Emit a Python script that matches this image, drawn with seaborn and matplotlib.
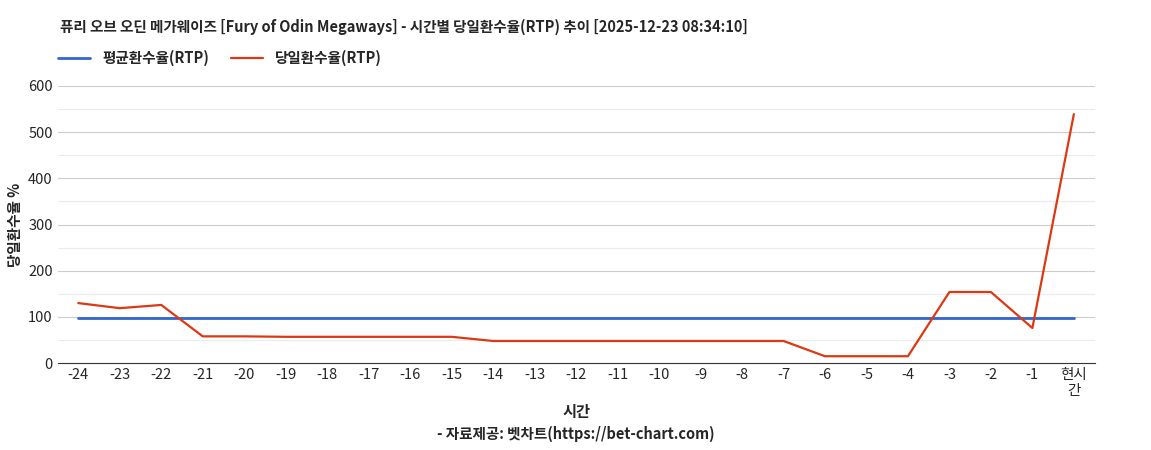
import matplotlib.pyplot as plt
import seaborn as sns
import pandas as pd

hours = [str(h) for h in range(-24, 0)] + ["현시\n간"]
daily_rtp = [130, 119, 126, 58, 58, 57, 57, 57, 57, 57, 48, 48, 48, 48, 48, 48, 48, 48,
             15, 15, 15, 154, 154, 76, 539]
avg_rtp = [97] * 25

sns.set_style("white")
plt.rcParams['font.family'] = ['Noto Sans CJK KR', 'DejaVu Sans']

df = pd.DataFrame({"x": range(len(hours)), "avg": avg_rtp, "daily": daily_rtp})

fig = plt.figure(figsize=(11.51, 4.5), dpi=100)
ax = fig.add_axes([0.050, 0.193, 0.901, 0.616])

for v in range(50, 600, 100):
    ax.axhline(v, color="#ebebeb", lw=0.8, zorder=0)
for v in range(100, 700, 100):
    ax.axhline(v, color="#cccccc", lw=0.8, zorder=0)

sns.lineplot(data=df, x="x", y="avg", color="#3366cc", lw=2, ax=ax, label="평균환수율(RTP)")
sns.lineplot(data=df, x="x", y="daily", color="#dc3912", lw=1.6, ax=ax, label="당일환수율(RTP)")

ax.set_xlim(-0.5, len(hours) - 0.5)
ax.set_ylim(0, 600)
ax.set_yticks(range(0, 700, 100))
ax.set_xticks(range(len(hours)))
ax.set_xticklabels(hours, fontsize=10.5)
ax.tick_params(axis="y", labelsize=10.5, length=0)
ax.tick_params(axis="x", length=0)
for s in ["top", "right", "left"]:
    ax.spines[s].set_visible(False)
ax.spines["bottom"].set_color("#333333")
ax.set_xlabel("시간", fontsize=11, fontweight="bold")
ax.set_ylabel("당일환수율 %", fontsize=10.5, fontweight="bold")

ax.legend(loc="lower left", bbox_to_anchor=(-0.005, 1.05), ncol=2, frameon=False,
          fontsize=10.5, prop={"weight": "bold", "size": 10.5}, handlelength=2.2,
          borderaxespad=0, columnspacing=1.5)

fig.text(0.052, 0.93, "퓨리 오브 오딘 메가웨이즈 [Fury of Odin Megaways] - 시간별 당일환수율(RTP) 추이 [2025-12-23 08:34:10]",
         fontsize=10.5, fontweight="bold")
fig.text(0.5, 0.025, "- 자료제공: 벳차트(https://bet-chart.com)", fontsize=10.5,
         fontweight="bold", ha="center")

fig.savefig("out.png", dpi=100)
